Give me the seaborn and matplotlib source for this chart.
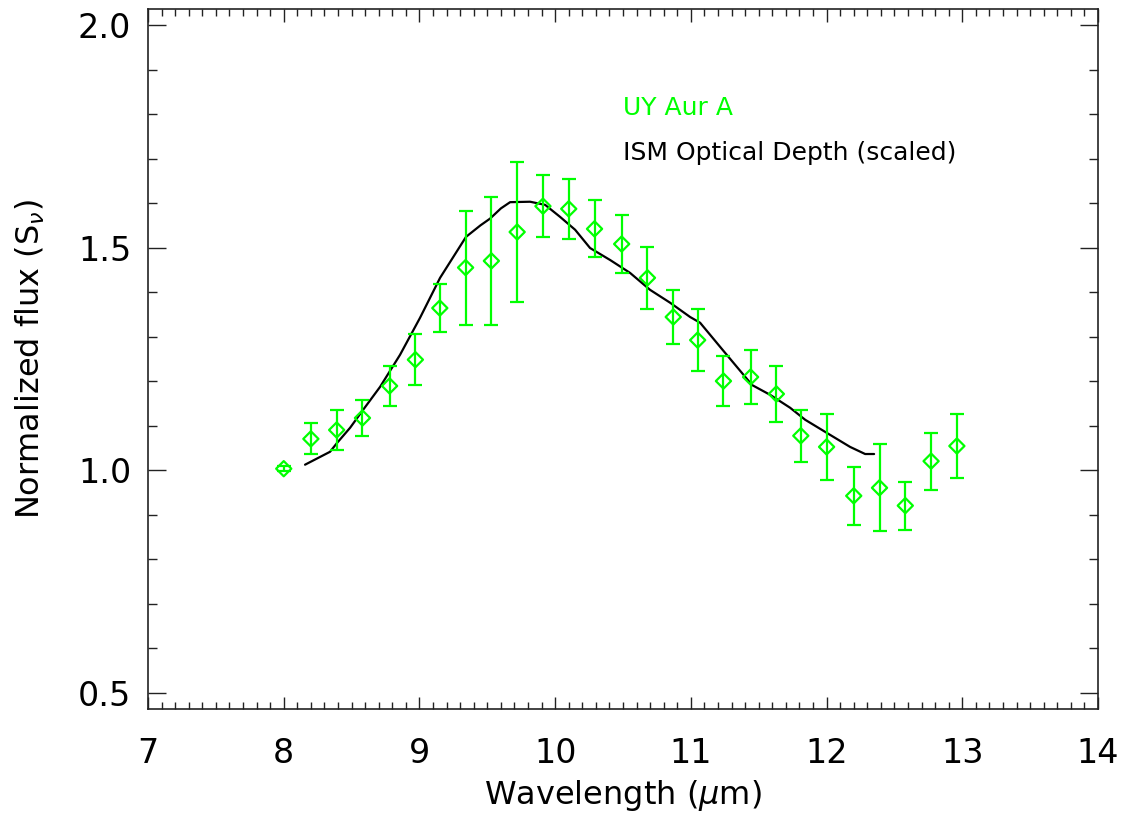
import numpy as np
import pandas as pd
import matplotlib
matplotlib.use("Agg")
import matplotlib.pyplot as plt
from matplotlib.ticker import MultipleLocator
import seaborn as sns

# UY Aur A normalized flux with errors
wave = [8.00, 8.20, 8.39, 8.58, 8.78, 8.97, 9.15, 9.34, 9.53, 9.72, 9.91,
        10.10, 10.29, 10.49, 10.68, 10.87, 11.05, 11.24, 11.44, 11.63, 11.81,
        12.00, 12.20, 12.39, 12.58, 12.77, 12.96]
flux = [1.003, 1.070, 1.090, 1.117, 1.189, 1.248, 1.364, 1.455, 1.470, 1.535, 1.593,
        1.587, 1.542, 1.508, 1.432, 1.344, 1.292, 1.200, 1.209, 1.171, 1.077,
        1.052, 0.942, 0.960, 0.920, 1.020, 1.054]
err = [0.005, 0.035, 0.045, 0.040, 0.044, 0.057, 0.053, 0.128, 0.143, 0.157, 0.070,
       0.067, 0.064, 0.065, 0.070, 0.060, 0.070, 0.056, 0.060, 0.062, 0.058,
       0.075, 0.065, 0.098, 0.054, 0.064, 0.071]

# ISM optical depth curve (scaled)
ism_wave = [8.157, 8.341, 8.393, 8.489, 8.584, 8.710, 8.857, 9.004, 9.152, 9.343,
            9.450, 9.520, 9.600, 9.668, 9.815, 9.926, 10.036, 10.147, 10.257,
            10.405, 10.552, 10.699, 10.847, 10.994, 11.068, 11.245, 11.451,
            11.584, 11.731, 11.842, 12.026, 12.173, 12.284, 12.350]
ism_tau = [1.012, 1.041, 1.061, 1.095, 1.135, 1.187, 1.259, 1.342, 1.432, 1.524,
           1.550, 1.565, 1.588, 1.602, 1.603, 1.596, 1.569, 1.540, 1.499,
           1.472, 1.443, 1.405, 1.376, 1.344, 1.331, 1.266, 1.191,
           1.169, 1.140, 1.113, 1.079, 1.052, 1.036, 1.036]

GREEN = "#00ff00"

sns.set_style("ticks")
plt.rcParams["font.family"] = ["DejaVu Sans"]
plt.rcParams["text.color"] = "black"
plt.rcParams["axes.labelcolor"] = "black"
plt.rcParams["xtick.labelcolor"] = "black"
plt.rcParams["ytick.labelcolor"] = "black"

fig = plt.figure(figsize=(11.3, 8.24), dpi=100)
ax = fig.add_axes([0.131, 0.1396, 0.8407, 0.8494])

df = pd.DataFrame({"wave": wave, "flux": flux, "err": err})
ism = pd.DataFrame({"wave": ism_wave, "tau": ism_tau})

sns.lineplot(data=ism, x="wave", y="tau", color="black", linewidth=1.6,
             sort=False, ax=ax)
ax.errorbar(df["wave"], df["flux"], yerr=df["err"], fmt="none",
            ecolor=GREEN, elinewidth=1.6, capsize=5, capthick=1.6)
sns.scatterplot(data=df, x="wave", y="flux", marker="D", s=60,
                facecolor="none", edgecolor=GREEN, linewidth=1.6, ax=ax, zorder=3)

ax.set_xlim(7, 14)
ax.set_ylim(0.463, 2.036)
ax.xaxis.set_major_locator(MultipleLocator(1))
ax.xaxis.set_minor_locator(MultipleLocator(0.1))
ax.yaxis.set_major_locator(MultipleLocator(0.5))
ax.yaxis.set_minor_locator(MultipleLocator(0.1))
ax.set_yticks([0.5, 1.0, 1.5, 2.0])
ax.set_yticklabels(["0.5", "1.0", "1.5", "2.0"])

ax.tick_params(axis="both", which="both", direction="in", top=True, right=True,
               color="#222222", width=1.0)
ax.tick_params(axis="x", which="major", length=9, labelsize=24, pad=20)
ax.tick_params(axis="x", which="minor", length=5)
ax.tick_params(axis="y", which="major", length=13, labelsize=24, pad=12)
ax.tick_params(axis="y", which="minor", length=6.5)
for sp in ax.spines.values():
    sp.set_linewidth(1.2)
    sp.set_color("#222222")

ax.set_xlabel(r"Wavelength ($\mu$m)", fontsize=23, labelpad=6)
ax.set_ylabel(r"Normalized flux (S$_\nu$)", fontsize=23, labelpad=22)

fig.text(623 / 1130, 1 - 115 / 824, "UY Aur A", color=GREEN, fontsize=18,
         va="baseline", ha="left")
fig.text(623 / 1130, 1 - 160 / 824, "ISM Optical Depth (scaled)", color="black",
         fontsize=18, va="baseline", ha="left")

fig.savefig("out.png", dpi=100)
